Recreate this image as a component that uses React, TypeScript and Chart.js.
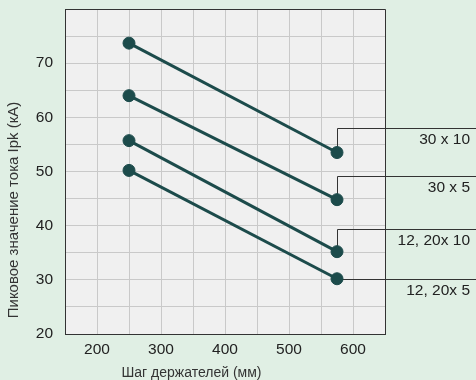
import React, { useEffect, useRef } from "react";
import { Chart, registerables } from "chart.js";

Chart.register(...registerables);

// ---- data ----
const spacings = [250, 575];
const series30x10 = [73.7, 53.5];
const series30x5 = [64, 44.8];
const series12x10 = [55.7, 35.2];
const series12x5 = [50.2, 30.2];
const seriesLabels = ["30 x 10", "30 x 5", "12, 20x 10", "12, 20x 5"];
const leaderLevels = [58, 49.2, 39.4, 30.2];
const xTickLabels = [200, 300, 400, 500, 600];
const yTickLabels = [20, 30, 40, 50, 60, 70];
const xTitle = "Шаг держателей (мм)";
const yTitle = "Пиковое значение тока Ipk (кА)";

const BG = "#e0efe4";
const PLOT_BG = "#f0f0f0";
const LINE = "#1c4b4b";
const FONT = "'Liberation Sans', Arial, sans-serif";

export default function App() {
  const ref = useRef<HTMLCanvasElement | null>(null);

  useEffect(() => {
    document.body.style.margin = "0";
    const canvas = ref.current;
    if (!canvas) return;
    const allSeries = [series30x10, series30x5, series12x10, series12x5];

    const deco = {
      id: "deco",
      beforeDraw(chart: any) {
        const { ctx, chartArea: a } = chart;
        ctx.save();
        ctx.fillStyle = BG;
        ctx.fillRect(0, 0, chart.width, chart.height);
        ctx.fillStyle = PLOT_BG;
        ctx.fillRect(a.left, a.top, a.right - a.left, a.bottom - a.top);
        ctx.restore();
      },
      beforeDatasetsDraw(chart: any) {
        const { ctx } = chart;
        const ys = chart.scales.y;
        ctx.save();
        ctx.strokeStyle = "#333";
        ctx.lineWidth = 1;
        chart.data.datasets.forEach((_: any, i: number) => {
          const pt = chart.getDatasetMeta(i).data[1];
          const ly = Math.round(ys.getPixelForValue(leaderLevels[i])) + 0.5;
          const px = Math.round(pt.x) + 0.5;
          ctx.beginPath();
          ctx.moveTo(px, pt.y);
          ctx.lineTo(px, ly);
          ctx.lineTo(chart.width, ly);
          ctx.stroke();
        });
        ctx.restore();
      },
      afterDraw(chart: any) {
        const { ctx, chartArea: a } = chart;
        const ys = chart.scales.y;
        ctx.save();
        ctx.strokeStyle = "#333";
        ctx.lineWidth = 1;
        ctx.beginPath();
        ctx.moveTo(a.left, Math.round(a.top) + 0.5);
        ctx.lineTo(Math.round(a.right) + 0.5, Math.round(a.top) + 0.5);
        ctx.lineTo(Math.round(a.right) + 0.5, a.bottom);
        ctx.stroke();

        ctx.fillStyle = "#222";
        ctx.font = `15.5px ${FONT}`;
        ctx.textAlign = "right";
        ctx.textBaseline = "middle";
        seriesLabels.forEach((lab, i) => {
          const ly = ys.getPixelForValue(leaderLevels[i]);
          ctx.fillText(lab, chart.width - 6, ly + 12);
        });

        ctx.fillStyle = "#333";
        ctx.font = `14px ${FONT}`;
        ctx.textAlign = "center";
        ctx.fillText(xTitle, a.left + 126.5, chart.height - 7);
        ctx.font = `15px ${FONT}`;
        ctx.translate(14, a.bottom - 124);
        ctx.rotate(-Math.PI / 2);
        ctx.fillText(yTitle, 0, 0);
        ctx.restore();
      },
    };

    const chart = new Chart(canvas, {
      type: "line",
      data: {
        datasets: allSeries.map((vals, i) => ({
          label: seriesLabels[i],
          data: spacings.map((x, j) => ({ x, y: vals[j] })),
          borderColor: LINE,
          backgroundColor: LINE,
          borderWidth: 3,
          pointRadius: 6,
          pointBorderWidth: 1,
          pointBackgroundColor: LINE,
          pointBorderColor: LINE,
          fill: false,
          tension: 0,
        })),
      },
      options: {
        animation: false,
        responsive: false,
        layout: { padding: { top: 9, right: 91, left: 0, bottom: 0 } },
        plugins: { legend: { display: false }, tooltip: { enabled: false } },
        scales: {
          x: {
            type: "linear",
            min: 150,
            max: 650,
            afterFit: (s: any) => {
              s.height = 46;
              s.paddingLeft = 0;
              s.paddingRight = 0;
            },
            grid: { color: "#c9c9c9", lineWidth: 1, drawTicks: false },
            border: { display: true, color: "#333", width: 1 },
            ticks: {
              stepSize: 50,
              autoSkip: false,
              maxRotation: 0,
              padding: 6,
              color: "#222",
              font: { family: FONT, size: 15.5 },
              callback: (v: any) => (xTickLabels.includes(Number(v)) ? String(v) : ""),
            },
          },
          y: {
            min: 20,
            max: 80,
            afterFit: (s: any) => {
              s.width = 65;
              s.paddingTop = 0;
              s.paddingBottom = 0;
            },
            grid: { color: "#c9c9c9", lineWidth: 1, drawTicks: false },
            border: { display: true, color: "#333", width: 1 },
            ticks: {
              stepSize: 5,
              autoSkip: false,
              padding: 12,
              color: "#222",
              font: { family: FONT, size: 15.5 },
              callback: (v: any) => (yTickLabels.includes(Number(v)) ? String(v) : ""),
            },
          },
        },
      },
      plugins: [deco],
    } as any);
    return () => chart.destroy();
  }, []);

  return (
    <div style={{ width: 476, height: 380, background: BG }}>
      <canvas ref={ref} width={476} height={380} style={{ display: "block" }} />
    </div>
  );
}
